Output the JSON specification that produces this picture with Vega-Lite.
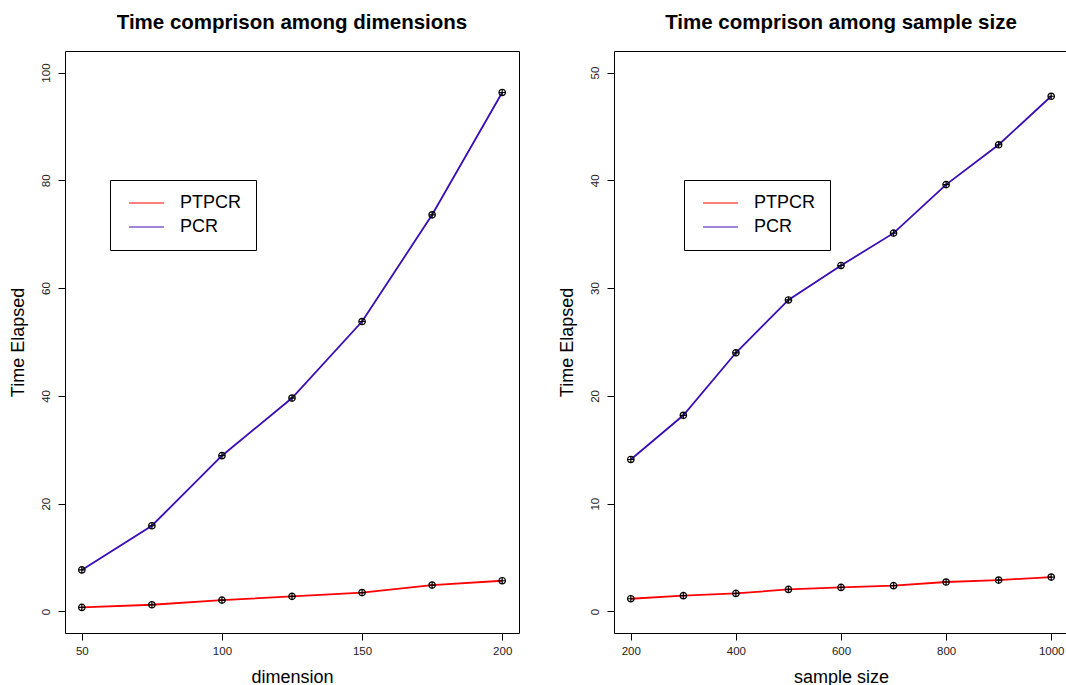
{
  "$schema": "https://vega.github.io/schema/vega-lite/v6.json",
  "padding": {"left": 8, "top": 12, "right": 0, "bottom": 0},
  "background": "white",
  "datasets": {
    "dim": [
      {"dimension": 50, "method": "PTPCR", "time": 0.74},
      {"dimension": 75, "method": "PTPCR", "time": 1.24},
      {"dimension": 100, "method": "PTPCR", "time": 2.1},
      {"dimension": 125, "method": "PTPCR", "time": 2.8},
      {"dimension": 150, "method": "PTPCR", "time": 3.5},
      {"dimension": 175, "method": "PTPCR", "time": 4.9},
      {"dimension": 200, "method": "PTPCR", "time": 5.7},
      {"dimension": 50, "method": "PCR", "time": 7.7},
      {"dimension": 75, "method": "PCR", "time": 15.9},
      {"dimension": 100, "method": "PCR", "time": 28.9},
      {"dimension": 125, "method": "PCR", "time": 39.6},
      {"dimension": 150, "method": "PCR", "time": 53.8},
      {"dimension": 175, "method": "PCR", "time": 73.6},
      {"dimension": 200, "method": "PCR", "time": 96.3}
    ],
    "samp": [
      {"n": 200, "method": "PTPCR", "time": 1.18},
      {"n": 300, "method": "PTPCR", "time": 1.46},
      {"n": 400, "method": "PTPCR", "time": 1.67},
      {"n": 500, "method": "PTPCR", "time": 2.04},
      {"n": 600, "method": "PTPCR", "time": 2.23},
      {"n": 700, "method": "PTPCR", "time": 2.39},
      {"n": 800, "method": "PTPCR", "time": 2.73},
      {"n": 900, "method": "PTPCR", "time": 2.91},
      {"n": 1000, "method": "PTPCR", "time": 3.19},
      {"n": 200, "method": "PCR", "time": 14.1},
      {"n": 300, "method": "PCR", "time": 18.2},
      {"n": 400, "method": "PCR", "time": 24.0},
      {"n": 500, "method": "PCR", "time": 28.9},
      {"n": 600, "method": "PCR", "time": 32.1},
      {"n": 700, "method": "PCR", "time": 35.1},
      {"n": 800, "method": "PCR", "time": 39.6},
      {"n": 900, "method": "PCR", "time": 43.3},
      {"n": 1000, "method": "PCR", "time": 47.8}
    ]
  },
  "spacing": 95,
  "bounds": "flush",
  "resolve": {"scale": {"x": "independent", "y": "independent", "color": "independent"}, "legend": {"color": "independent"}},
  "hconcat": [
    {
      "width": 454,
      "height": 582,
      "title": {"text": "Time comprison among dimensions"},
      "data": {"name": "dim"},
      "encoding": {
        "x": {"field": "dimension", "type": "quantitative", "title": "dimension",
              "scale": {"domain": [44, 206], "nice": false, "zero": false},
              "axis": {"values": [50, 100, 150, 200], "format": "d"}},
        "y": {"field": "time", "type": "quantitative", "title": "Time Elapsed",
              "scale": {"domain": [-4, 104], "nice": false, "zero": false},
              "axis": {"values": [0, 20, 40, 60, 80, 100], "format": "d"}}
      },
      "layer": [
        {"mark": {"type": "line", "strokeWidth": 1.8},
         "encoding": {"color": {"field": "method", "type": "nominal",
           "scale": {"domain": ["PTPCR", "PCR"], "range": ["#FF0000", "#3A0CB5"]},
           "legend": {"title": null, "orient": "none", "legendX": 45, "legendY": 129}}}},
        {"mark": {"type": "point", "shape": "M-1,0A1,1 0 1,1 1,0A1,1 0 1,1 -1,0ZM-1,0L1,0M0,-1L0,1", "filled": false, "stroke": "black", "strokeWidth": 1.2, "size": 42, "opacity": 1}}
      ]
    },
    {
      "width": 454,
      "height": 582,
      "title": {"text": "Time comprison among sample size"},
      "data": {"name": "samp"},
      "encoding": {
        "x": {"field": "n", "type": "quantitative", "title": "sample size",
              "scale": {"domain": [168, 1032], "nice": false, "zero": false},
              "axis": {"values": [200, 400, 600, 800, 1000], "format": "d"}},
        "y": {"field": "time", "type": "quantitative", "title": "Time Elapsed",
              "scale": {"domain": [-2, 52], "nice": false, "zero": false},
              "axis": {"values": [0, 10, 20, 30, 40, 50], "format": "d"}}
      },
      "layer": [
        {"mark": {"type": "line", "strokeWidth": 1.8},
         "encoding": {"color": {"field": "method", "type": "nominal",
           "scale": {"domain": ["PTPCR", "PCR"], "range": ["#FF0000", "#3A0CB5"]},
           "legend": {"title": null, "orient": "none", "legendX": 70, "legendY": 129}}}},
        {"mark": {"type": "point", "shape": "M-1,0A1,1 0 1,1 1,0A1,1 0 1,1 -1,0ZM-1,0L1,0M0,-1L0,1", "filled": false, "stroke": "black", "strokeWidth": 1.2, "size": 42, "opacity": 1}}
      ]
    }
  ],
  "config": {
    "font": "Liberation Sans",
    "view": {"stroke": "black", "strokeWidth": 1},
    "title": {"font": "Liberation Sans", "fontSize": 20.5, "fontWeight": "bold", "color": "black", "anchor": "middle", "baseline": "alphabetic", "offset": 18},
    "axis": {
      "grid": false, "domain": false, "tickColor": "black", "tickSize": 7, "tickWidth": 1,
      "labelFont": "Liberation Sans", "labelFontSize": 11.5, "labelColor": "#222222",
      "titleFont": "Liberation Sans", "titleFontSize": 18, "titleFontWeight": "normal", "titleColor": "black",
      "labelFlush": false, "labelOverlap": false
    },
    "axisX": {"labelPadding": 5, "titlePadding": 12},
    "axisY": {"labelAngle": 270, "labelAlign": "center", "labelBaseline": "bottom", "labelPadding": 7, "titlePadding": 13},
    "legend": {
      "strokeColor": "black", "fillColor": "white", "padding": 14, "symbolType": "M-2.5,0L2.5,0",
      "symbolSize": 196, "symbolStrokeWidth": 1, "symbolOffset": 13.5,
      "labelFont": "Liberation Sans", "labelFontSize": 18, "labelColor": "black", "labelOffset": 24.5,
      "rowPadding": 6, "cornerRadius": 0
    }
  }
}
